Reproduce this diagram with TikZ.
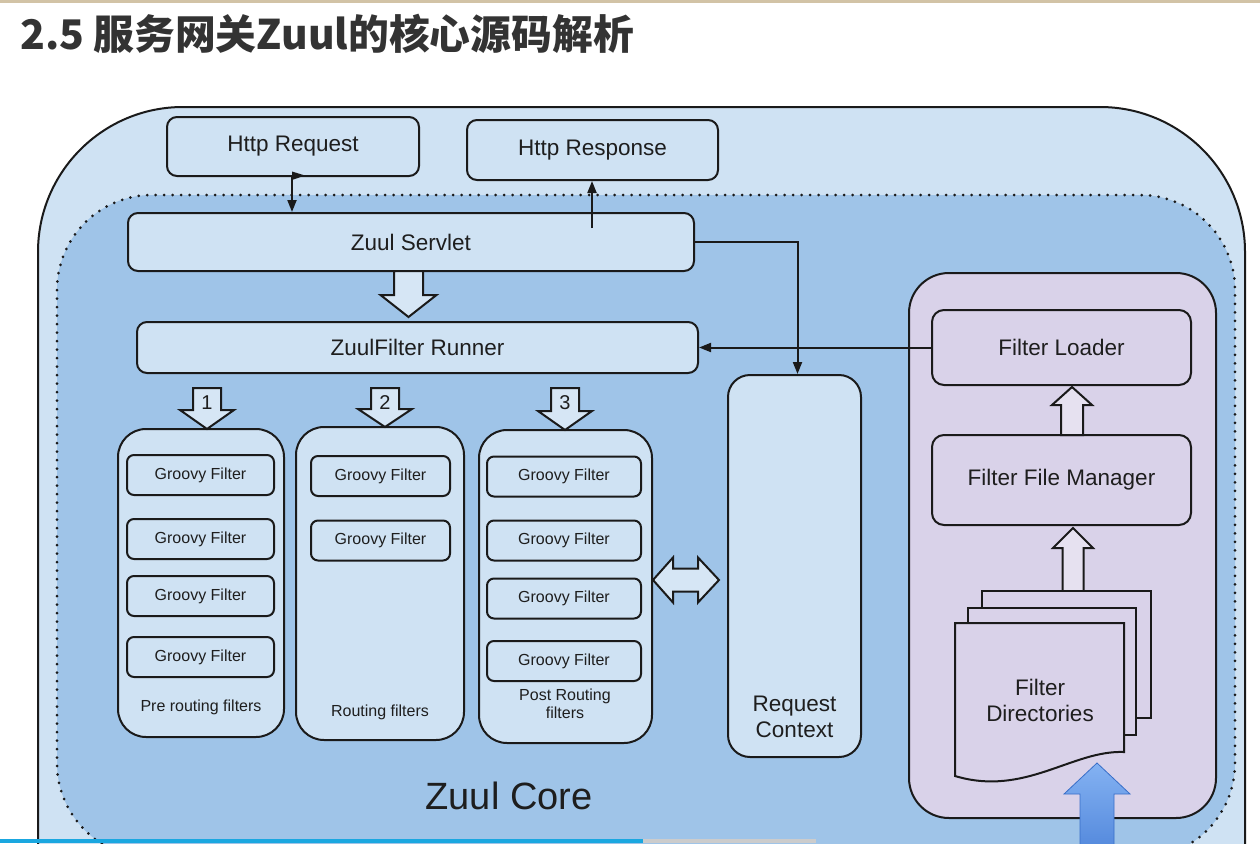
\documentclass[tikz,border=0pt]{standalone}
\usepackage{fontspec}
\setmainfont{Liberation Sans}
\newfontfamily\cjk{Noto Sans CJK SC}
\usetikzlibrary{arrows.meta}
\definecolor{outerblue}{HTML}{CFE2F3}
\definecolor{coreblue}{HTML}{9FC4E8}
\definecolor{boxblue}{HTML}{CFE2F3}
\definecolor{lav}{HTML}{D9D2E9}
\definecolor{ink}{HTML}{1A1A1A}
\definecolor{txt}{HTML}{1E1E1E}
\definecolor{titlegray}{HTML}{333333}
\definecolor{tanline}{HTML}{D2C3A6}
\definecolor{arrowfill}{HTML}{D6E6F5}
\definecolor{lavarrow}{HTML}{E6E1F0}
\definecolor{barcyan}{HTML}{1AA7E0}
\definecolor{bluetop}{RGB}{132,178,242}
\definecolor{bluebot}{RGB}{78,132,218}
\definecolor{blueedge}{RGB}{56,110,200}
\tikzset{
  box/.style={draw=ink, line width=2pt, fill=boxblue, rounded corners=10pt, inner sep=0pt,
    text=txt, font=\fontsize{22.5}{26}\selectfont, align=center},
  groovy/.style={box, rounded corners=7pt, font=\fontsize{16}{19}\selectfont},
  column/.style={draw=ink, line width=2pt, fill=boxblue, rounded corners=28pt, inner sep=0pt},
  lavbox/.style={box, fill=lav, rounded corners=12pt},
  harrow/.style={draw=ink, line width=2pt, fill=#1, line join=miter},
  harrow/.default=arrowfill,
  conn/.style={draw=ink, line width=2pt, -{Triangle[length=12pt,width=9pt]}},
  lbl/.style={text=txt, font=\fontsize{16}{18}\selectfont, align=center, inner sep=0pt},
  biglbl/.style={text=txt, font=\fontsize{22.5}{26}\selectfont, align=center, inner sep=0pt},
  numlbl/.style={text=txt, font=\fontsize{20}{22}\selectfont, inner sep=0pt},
  dotline/.style={draw=ink, line width=3pt, line cap=round, dash pattern=on 0pt off 8.5pt},
  doc/.style={draw=ink, line width=2pt, fill=lav},
}
% hollow block arrow: cx, shaft-end y, tip y, shaft half width, head half width, head base y, style
\newcommand\HollowArrow[7]{%
  \draw[#7] ({#1-#4},#2) -- ({#1+#4},#2) -- ({#1+#4},#6) -- ({#1+#5},#6) -- (#1,#3)
    -- ({#1-#5},#6) -- ({#1-#4},#6) -- cycle;}
\begin{document}
\begin{tikzpicture}[x=1pt,y=-1pt]
\useasboundingbox (0,0) rectangle (1260,843);
\clip (0,0) rectangle (1260,843);
\fill[white] (0,0) rectangle (1260,843);
\fill[tanline] (0,0) rectangle (1260,3);

% title
\node[anchor=base west, inner sep=0pt, text=titlegray, font=\cjk\bfseries\fontsize{40.8}{46}\selectfont]
  (title) at (20,50) {2.5 服务网关Zuul的核心源码解析};

% outer container and Zuul Core region
\draw[line width=2pt, draw=ink, fill=outerblue, rounded corners=145pt] (38,107) rectangle (1245,1050);
\fill[coreblue, rounded corners=95pt] (57,195) rectangle (1235,858);
\draw[dotline, rounded corners=95pt] (57,195) rectangle (1235,858);

% top boxes
\node[box, minimum width=252pt, minimum height=59pt] (httpreq) at (293,146.5) {Http Request};
\node[box, minimum width=251pt, minimum height=60pt] (httpresp) at (592.5,150) {Http Response};
\node[box, minimum width=566pt, minimum height=58pt] (servlet) at (411,242) {Zuul Servlet};
\node[box, minimum width=561pt, minimum height=51pt] (runner) at (417.5,347.5) {ZuulFilter Runner};

% servlet -> runner block arrow
\HollowArrow{408.5}{271}{317}{14.5}{28}{295}{harrow}

% filter columns
\node[column, minimum width=166pt, minimum height=308pt] (col1) at (201,583) {};
\node[column, minimum width=168pt, minimum height=313pt] (col2) at (380,583.5) {};
\node[column, minimum width=173pt, minimum height=313pt] (col3) at (565.5,586.5) {};

\HollowArrow{207}{388}{429}{14}{27}{410}{harrow}
\HollowArrow{385}{388}{427}{14}{27}{409}{harrow}
\HollowArrow{565}{388}{430}{14}{27}{411}{harrow}
\node[numlbl] (n1) at (207,403) {1};
\node[numlbl] (n2) at (385,403) {2};
\node[numlbl] (n3) at (565,403) {3};

\foreach \yy/\nm in {475/a,539/b,596/c,657/d}
  \node[groovy, minimum width=147pt, minimum height=40pt] (g1\nm) at (200.5,\yy) {Groovy Filter};
\foreach \yy/\nm in {476/a,540.5/b}
  \node[groovy, minimum width=139pt, minimum height=40pt] (g2\nm) at (380.5,\yy) {Groovy Filter};
\foreach \yy/\nm in {476.5/a,540.5/b,598.5/c,661/d}
  \node[groovy, minimum width=154pt, minimum height=40pt] (g3\nm) at (564,\yy) {Groovy Filter};

\node[lbl] (l1) at (201,707) {Pre routing filters};
\node[lbl] (l2) at (380,712) {Routing filters};
\node[lbl] (l3) at (565,704) {Post Routing\\filters};

% request context
\node[box, rounded corners=22pt, minimum width=133pt, minimum height=382pt] (reqctx) at (794.5,566) {};
\node[biglbl] (rctext) at (794.5,717) {Request\\Context};

% double block arrow
\draw[harrow] (653,580) -- (673,557.5) -- (673,568.5) -- (698,568.5) -- (698,557.5) -- (719,580)
  -- (698,602.5) -- (698,591.5) -- (673,591.5) -- (673,602.5) -- cycle;

% filter system panel
\node[draw=ink, line width=2pt, fill=lav, rounded corners=40pt, inner sep=0pt,
  minimum width=307pt, minimum height=545pt] (panel) at (1062.5,545.5) {};
\node[lavbox, minimum width=259pt, minimum height=75pt] (loader) at (1061.5,347.5) {Filter Loader};
\node[lavbox, minimum width=259pt, minimum height=90pt] (ffm) at (1061.5,480) {Filter File Manager};
\HollowArrow{1072}{435}{387}{11}{20}{405}{harrow=lavarrow}
\HollowArrow{1073}{591}{528}{10.5}{20}{548}{harrow=lavarrow}

% filter directories (stacked documents)
\draw[doc] (982,591) rectangle (1151,718);
\draw[doc] (968,608) rectangle (1136,735);
\draw[doc] (955,623) -- (1124,623) -- (1124,752) .. controls (1072,750) and (1025,797) .. (955,776) -- cycle;
\node[biglbl] (fdtext) at (1040,700) {Filter\\Directories};

% blue input arrow
\draw[draw=blueedge, line width=0.8pt, top color=bluetop, bottom color=bluebot]
  (1080,860) -- (1114,860) -- (1114,794) -- (1130,794) -- (1097,763) -- (1064,794) -- (1080,794) -- cycle;

\node[text=txt, font=\fontsize{38}{42}\selectfont, inner sep=0pt] (core) at (509,796) {Zuul Core};

% connectors
\draw[conn] ([xshift=-1pt]httpreq.south) -- ([xshift=-1pt]httpreq.south |- servlet.north);
\fill[ink] (292,171.5) -- (305,175.5) -- (292,180) -- cycle;
\coordinate (svout) at (592,228);
\draw[conn] (svout) -- (svout |- httpresp.south);
\draw[conn] (servlet.east) -| ([xshift=3pt]reqctx.north);
\draw[conn] (loader.west) -- (runner.east);

% player progress bar
\fill[barcyan] (0,839) rectangle (643,843);
\fill[black!20] (643,839) rectangle (816,843);
\end{tikzpicture}
\end{document}
